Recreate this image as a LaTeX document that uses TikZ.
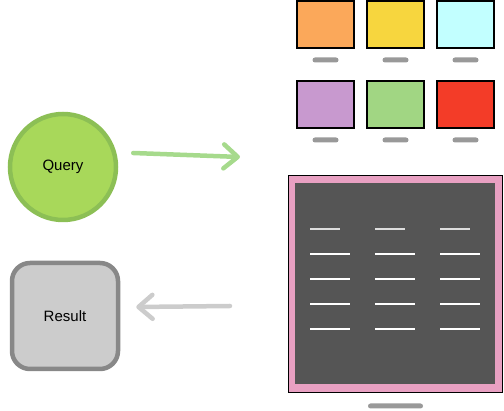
\documentclass[tikz,border=0pt]{standalone}
\usepackage{fontspec}
\setmainfont{Liberation Sans}
\usepackage{xcolor}
\usetikzlibrary{arrows.meta}

\definecolor{queryfill}{HTML}{A8D85A}
\definecolor{queryrim}{HTML}{8CBF55}
\definecolor{resultfill}{HTML}{CCCCCC}
\definecolor{resultrim}{HTML}{888888}
\definecolor{sendgreen}{HTML}{A6DA8C}
\definecolor{backgray}{HTML}{CCCCCC}
\definecolor{standgray}{HTML}{999999}
\definecolor{framepink}{HTML}{E8A0C2}
\definecolor{paneldark}{HTML}{555555}
\definecolor{headgray}{HTML}{DDDDDD}
\definecolor{scrorange}{HTML}{FBA85A}
\definecolor{scryellow}{HTML}{F7D63E}
\definecolor{scrcyan}{HTML}{C2FFFF}
\definecolor{scrpurple}{HTML}{C899CF}
\definecolor{scrgreen}{HTML}{A1D683}
\definecolor{scrred}{HTML}{F33C28}

\begin{document}
\begin{tikzpicture}[
    x=1pt, y=-1pt,
    font=\fontsize{15}{18}\selectfont,
    screen/.style={draw=black, line width=2pt, minimum width=57pt, minimum height=47pt,
      inner sep=0pt},
    stand/.style={fill=standgray, rounded corners=2.5pt, minimum width=26pt,
      minimum height=5pt, inner sep=0pt},
    cell/.style={draw=white, line width=2.5pt},
    ar/.style={line width=4.5pt, line cap=round,
      -{Straight Barb[length=14pt, width=24pt, round]}},
  ]
    \useasboundingbox (0,0) rectangle (504,411);
    % Small monitors, two rows
    \foreach \col/\x/\y/\n in {scrorange/325.5/24.5/a, scryellow/395.5/24.5/b,
        scrcyan/465.5/24.5/c, scrpurple/325.5/104.5/d, scrgreen/395.5/104.5/e,
        scrred/465.5/104.5/f} {
      \node[screen, fill=\col] (scr\n) at (\x,\y) {};
      \node[stand] (std\n) at (\x,\y+35.5) {};
    }
    % Big monitor with table
    \node[draw=black, line width=1.5pt, fill=framepink, minimum width=214pt,
      minimum height=217pt, inner sep=0pt] (tv) at (395.5,284) {};
    \node[fill=paneldark, minimum width=200pt, minimum height=201pt,
      inner sep=0pt] (panel) at (395,283.5) {};
    \node[stand, minimum width=55pt] (tvstand) at (395.5,406) {};
    \foreach \x in {310,375,440} {
      \draw[cell, draw=headgray] (\x,229) -- (\x+30,229);
      \foreach \y in {254,279,304,329}
        \draw[cell] (\x,\y) -- (\x+40,\y);
    }
    % Query and result
    \node[circle, fill=queryfill, draw=queryrim, line width=4.5pt,
      minimum size=106pt] (query) at (63,167) {Query};
    \node[rectangle, rounded corners=18pt, fill=resultfill, draw=resultrim,
      line width=4.5pt, minimum width=106pt, minimum height=106pt] (result)
      at (65,316) {Result};
    \coordinate (qtip) at (240,157);
    \coordinate (rtail) at (230,306);
    \draw[ar, draw=sendgreen] ([shift={(15,-14)}]query.east) -- (qtip);
    \draw[ar, draw=backgray] (rtail) -- ([shift={(16,-9)}]result.east);
\end{tikzpicture}
\end{document}
